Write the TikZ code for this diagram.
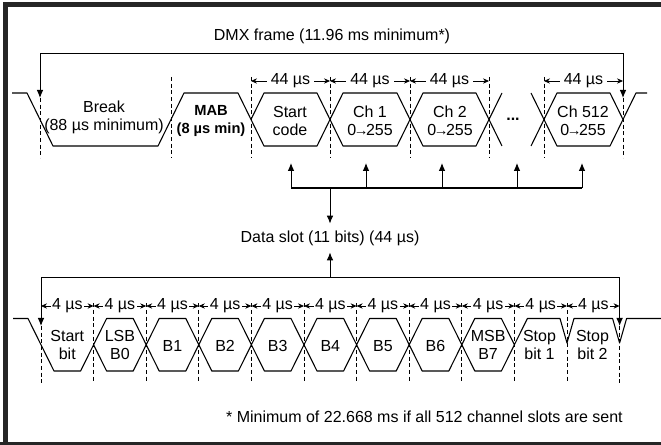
\documentclass[tikz,border=0pt]{standalone}
\usepackage{fontspec}
\setmainfont{Liberation Sans}
\usetikzlibrary{arrows.meta}

\definecolor{framegray}{HTML}{262626}
\newcommand{\valrange}{0\kern-1.8pt{\fontsize{11}{11}\selectfont→}\kern-1.8pt255}

\begin{document}
\begin{tikzpicture}[
  x=0.75pt, y=-0.75pt,
  sig/.style={line width=0.8pt, line join=round},
  guide/.style={dashed, dash pattern=on 3pt off 2pt, line width=0.6pt},
  arrow/.style={-{Latex[length=6pt,width=5pt]}, line width=0.75pt},
  both/.style={{Latex[length=6pt,width=5pt]}-{Latex[length=6pt,width=5pt]}, line width=0.75pt},
  dim/.style={{Stealth[length=4.5pt,width=4pt]}-{Stealth[length=4.5pt,width=4pt]}, line width=0.6pt},
  txt/.style={align=center, inner sep=0pt, font=\fontsize{12}{13.5}\selectfont},
  dimlabel/.style={fill=white, inner sep=1pt, font=\fontsize{12}{13.5}\selectfont},
  widelabel/.style={dimlabel, inner sep=3pt}
]
\useasboundingbox (0,0) rectangle (661,445);
\clip (0,0) rectangle (661,445);

% frame
\draw[framegray, line width=3.75pt] (5.5,450) -- (5.5,5) -- (700,5);
\draw[framegray, line width=3.75pt] (0,444.5) -- (700,444.5);

% top: DMX frame
\node[txt] (dmx) at (332,36) {DMX frame (11.96 ms minimum*)};

\coordinate (ta) at (40,81);
\coordinate (tb) at (171,81);
\coordinate (tc) at (251,81);
\coordinate (td) at (330,81);
\coordinate (te) at (410,81);
\coordinate (tf) at (489,81);
\coordinate (tg) at (544,81);
\coordinate (th) at (623,81);
\coordinate (ttip) at (0,98);
\coordinate (tbase) at (0,158);
\coordinate (fl) at (40,54);
\coordinate (fr) at (623,54);

\draw[both] (ta |- ttip) -- (fl) -- (fr) -- (th |- ttip);

\draw[sig] (12,93) -- (27,93) -- (53,146) -- (158,146) -- (184,93) -- (238,93) -- (264,146) -- (317,146) -- (343,93) -- (397,93) -- (423,146) -- (476,146) -- (502,93);
\draw[sig] (251,119.5) -- (264,93) -- (317,93) -- (343,146) -- (397,146) -- (423,93) -- (476,93) -- (502,146);
\draw[sig] (531,93) -- (557,146) -- (610,146) -- (636,93) -- (647,93);
\draw[sig] (531,146) -- (557,93) -- (610,93) -- (623,119.5);

\draw[guide] (ta |- ttip) -- (ta |- tbase);
\draw[guide] ([yshift=3pt]tb) -- (tb |- tbase);
\draw[guide] ([yshift=3pt]tc) -- (tc |- tbase);
\draw[guide] ([yshift=3pt]td) -- (td |- tbase);
\draw[guide] ([yshift=3pt]te) -- (te |- tbase);
\draw[guide] ([yshift=3pt]tf) -- (tf |- tbase);
\draw[guide] ([yshift=3pt]tg) -- (tg |- tbase);
\draw[guide] (th |- ttip) -- (th |- tbase);

\draw[dim] (tc) -- (td) node[midway, widelabel] {44 µs};
\draw[dim] (td) -- (te) node[midway, widelabel] {44 µs};
\draw[dim] (te) -- (tf) node[midway, widelabel] {44 µs};
\draw[dim] (tg) -- (th) node[midway, widelabel] {44 µs};

\node[txt] (brk) at (104,117) {Break\\(88 µs minimum)};
\node[txt, font=\fontsize{11}{13.5}\selectfont\bfseries] (mab) at (211,121) {MAB\\(8 µs min)};
\node[txt] (start) at (290,121) {Start\\code};
\node[txt] (ch1) at (370,121) {Ch 1\\\valrange};
\node[txt] (ch2) at (450,121) {Ch 2\\\valrange};
\node[txt] (dots) at (513,119) {\textbf{...}};
\node[txt] (chN) at (583,121) {Ch 512\\\valrange};

% fan into the data slot
\coordinate (f1) at (291,188);
\coordinate (f2) at (366,188);
\coordinate (f3) at (442,188);
\coordinate (f4) at (517,188);
\coordinate (f5) at (582,188);
\coordinate (fm) at (330,188);
\coordinate (u1) at (291,163);
\coordinate (u2) at (366,163);
\coordinate (u3) at (442,163);
\coordinate (u4) at (517,163);
\coordinate (u5) at (582,163);

\draw[sig] (f1) -- (f5);
\draw[arrow] (f1) -- (u1);
\draw[arrow] (f2) -- (u2);
\draw[arrow] (f3) -- (u3);
\draw[arrow] (f4) -- (u4);
\draw[arrow] (f5) -- (u5);

\node[txt, inner sep=5pt] (slot) at (330,238) {Data slot (11 bits) (44 µs)};
\coordinate (bm) at (330,278);
\draw[arrow] (fm) -- (slot.north);
\draw[arrow] (bm) -- (slot.south);

% bottom: bits of one slot
\coordinate (q0) at (41,306);
\coordinate (q1) at (93.6,306);
\coordinate (q2) at (146.2,306);
\coordinate (q3) at (198.8,306);
\coordinate (q4) at (251.4,306);
\coordinate (q5) at (304,306);
\coordinate (q6) at (356.6,306);
\coordinate (q7) at (409.2,306);
\coordinate (q8) at (461.8,306);
\coordinate (q9) at (514.4,306);
\coordinate (q10) at (567,306);
\coordinate (q11) at (619.6,306);
\coordinate (btip) at (0,326);
\coordinate (bbase) at (0,383);
\coordinate (bl) at (41,278);
\coordinate (br) at (619.6,278);

\draw[both] (q0 |- btip) -- (bl) -- (br) -- (q11 |- btip);

\draw[sig] (13,318.5) -- (28,318.5) -- (54,371) -- (80.6,371) -- (106.6,318.5) -- (133.2,318.5) -- (159.2,371) -- (185.8,371) -- (211.8,318.5) -- (238.4,318.5) -- (264.4,371) -- (291,371) -- (317,318.5) -- (343.6,318.5) -- (369.6,371) -- (396.2,371) -- (422.2,318.5) -- (448.8,318.5) -- (474.8,371) -- (501.4,371) -- (527.4,318.5) -- (560,318.5) -- (567,343) -- (574,318.5) -- (612.6,318.5) -- (619.6,343) -- (626.6,318.5) -- (661,318.5);
\draw[sig] (93.6,344.75) -- (106.6,371) -- (133.2,371) -- (159.2,318.5) -- (185.8,318.5) -- (211.8,371) -- (238.4,371) -- (264.4,318.5) -- (291,318.5) -- (317,371) -- (343.6,371) -- (369.6,318.5) -- (396.2,318.5) -- (422.2,371) -- (448.8,371) -- (474.8,318.5) -- (501.4,318.5) -- (514.4,344.75);

\draw[guide] (q0 |- btip) -- (q0 |- bbase);
\draw[guide] ([yshift=2pt]q1) -- (q1 |- bbase);
\draw[guide] ([yshift=2pt]q2) -- (q2 |- bbase);
\draw[guide] ([yshift=2pt]q3) -- (q3 |- bbase);
\draw[guide] ([yshift=2pt]q4) -- (q4 |- bbase);
\draw[guide] ([yshift=2pt]q5) -- (q5 |- bbase);
\draw[guide] ([yshift=2pt]q6) -- (q6 |- bbase);
\draw[guide] ([yshift=2pt]q7) -- (q7 |- bbase);
\draw[guide] ([yshift=2pt]q8) -- (q8 |- bbase);
\draw[guide] ([yshift=2pt]q9) -- (q9 |- bbase);
\draw[guide] ([yshift=2pt]q10) -- (q10 |- bbase);
\draw[guide] (q11 |- btip) -- (q11 |- bbase);

\draw[dim] (q0) -- (q1) node[midway, dimlabel] {4 µs};
\draw[dim] (q1) -- (q2) node[midway, dimlabel] {4 µs};
\draw[dim] (q2) -- (q3) node[midway, dimlabel] {4 µs};
\draw[dim] (q3) -- (q4) node[midway, dimlabel] {4 µs};
\draw[dim] (q4) -- (q5) node[midway, dimlabel] {4 µs};
\draw[dim] (q5) -- (q6) node[midway, dimlabel] {4 µs};
\draw[dim] (q6) -- (q7) node[midway, dimlabel] {4 µs};
\draw[dim] (q7) -- (q8) node[midway, dimlabel] {4 µs};
\draw[dim] (q8) -- (q9) node[midway, dimlabel] {4 µs};
\draw[dim] (q9) -- (q10) node[midway, dimlabel] {4 µs};
\draw[dim] (q10) -- (q11) node[midway, dimlabel] {4 µs};

\node[txt] (sb) at (67.3,345) {Start\\bit};
\node[txt] (b0) at (119.9,345) {LSB\\B0};
\node[txt] (b1) at (172.5,346) {B1};
\node[txt] (b2) at (225.1,346) {B2};
\node[txt] (b3) at (277.7,346) {B3};
\node[txt] (b4) at (330.3,346) {B4};
\node[txt] (b5) at (382.9,346) {B5};
\node[txt] (b6) at (435.5,346) {B6};
\node[txt] (b7) at (488.1,345) {MSB\\B7};
\node[txt] (s1) at (539.5,345) {Stop\\bit 1};
\node[txt] (s2) at (592.5,345) {Stop\\bit 2};

\node[txt, anchor=east] (note) at (623,417) {* Minimum of 22.668 ms if all 512 channel slots are sent};
\end{tikzpicture}
\end{document}
